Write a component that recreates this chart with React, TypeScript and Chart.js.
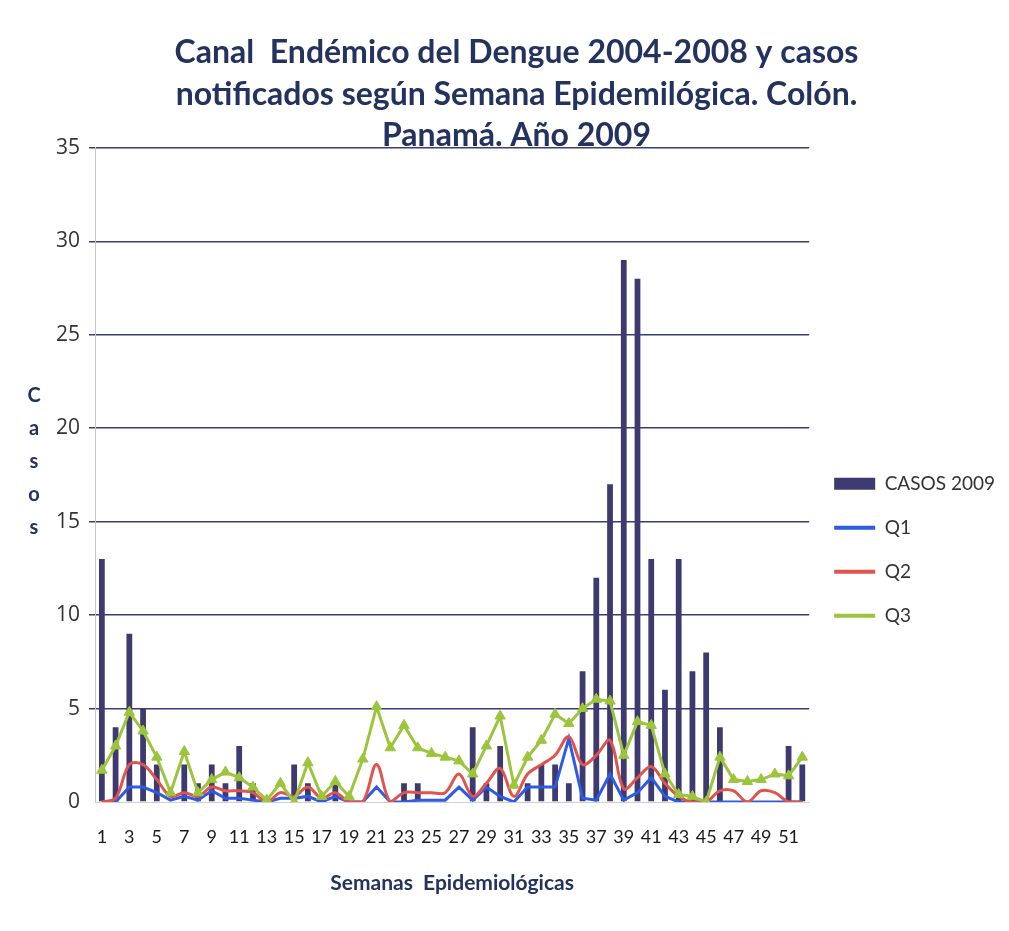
import React, { useEffect, useRef } from 'react';
import { Chart, registerables } from 'chart.js';

Chart.register(...registerables);

const weeks = ['1','2','3','4','5','6','7','8','9','10','11','12','13','14','15','16','17','18','19','20','21','22','23','24','25','26','27','28','29','30','31','32','33','34','35','36','37','38','39','40','41','42','43','44','45','46','47','48','49','50','51','52'];

const casos2009 = [13,4,9,5,2,0,2,1,2,1,3,1,0,0,2,1,0,1,0,0,0,0,1,1,0,0,0,4,1,3,0,1,2,2,1,7,12,17,29,28,13,6,13,7,8,4,0,0,0,0,3,2];

const q1 = [0,0,0.8,0.8,0.5,0.1,0.3,0.1,0.6,0.2,0.2,0.1,0,0.2,0.2,0.3,0,0.3,0,0,0.8,0,0,0.1,0.1,0.1,0.8,0.1,0.8,0.3,0,0.8,0.8,0.8,3.4,0.2,0.1,1.5,0.1,0.5,1.3,0.3,0,0,0,0,0,0,0,0,0,0];

const q2 = [0,0.2,2,2,1.2,0.3,0.5,0.3,0.8,0.6,0.6,0.5,0,0.5,0.3,0.8,0.2,0.5,0,0,2,0,0.5,0.5,0.5,0.5,1.5,0.3,1,1.8,0.3,1.5,2,2.5,3.5,2,2.5,3.3,0.7,1.3,1.9,1,0.3,0,0,0.6,0.6,0,0.6,0.5,0,0];

const q3 = [1.7,3,4.8,3.8,2.4,0.5,2.7,0.5,1.2,1.6,1.3,0.8,0.1,1,0,2.1,0.3,1.1,0.3,2.3,5.1,2.9,4.1,2.9,2.6,2.4,2.2,1.5,3,4.6,0.9,2.4,3.3,4.7,4.2,5,5.5,5.4,2.5,4.3,4.1,1.5,0.4,0.3,0,2.4,1.2,1.1,1.2,1.5,1.4,2.4];

const seriesNames = ['CASOS 2009', 'Q1', 'Q2', 'Q3'];
const titleLines = [
  'Canal  Endémico del Dengue 2004-2008 y casos',
  'notificados según Semana Epidemilógica. Colón.',
  'Panamá. Año 2009',
];
const yTitleLetters = ['C', 'a', 's', 'o', 's'];
const xTitle = 'Semanas  Epidemiológicas';

const NAVY = '#3e396e';
const TITLE_COLOR = '#23325e';
const GRID = '#3b3b78';

const casosLetters = {
  id: 'casosLetters',
  afterDraw(chart: any) {
    const { ctx, chartArea } = chart;
    const mid = (chartArea.top + chartArea.bottom) / 2 - 13;
    ctx.save();
    ctx.font = 'bold 20px Lato';
    ctx.fillStyle = TITLE_COLOR;
    ctx.textAlign = 'center';
    ctx.textBaseline = 'middle';
    yTitleLetters.forEach((l, i) => ctx.fillText(l, 6, mid + (i - 2) * 33));
    ctx.restore();
  },
};

export default function App() {
  const ref = useRef<HTMLCanvasElement | null>(null);
  useEffect(() => {
    if (!ref.current) return;
    const chart = new Chart(ref.current, {
      type: 'bar',
      data: {
        labels: weeks,
        datasets: [
          {
            type: 'bar',
            label: seriesNames[0],
            data: casos2009,
            backgroundColor: NAVY,
            borderWidth: 0,
            barPercentage: 0.42,
            categoryPercentage: 1,
            order: 10,
          },
          {
            type: 'line',
            label: seriesNames[1],
            data: q1,
            borderColor: '#2d5be3',
            backgroundColor: '#2d5be3',
            borderWidth: 3,
            pointRadius: 0,
            tension: 0,
            order: 3,
          },
          {
            type: 'line',
            label: seriesNames[2],
            data: q2,
            borderColor: '#e0544c',
            backgroundColor: '#e0544c',
            borderWidth: 3,
            pointRadius: 0,
            tension: 0.35,
            order: 2,
          },
          {
            type: 'line',
            label: seriesNames[3],
            data: q3,
            borderColor: '#9cc43c',
            backgroundColor: '#9cc43c',
            borderWidth: 3,
            pointStyle: 'triangle',
            pointRadius: 6,
            pointBorderWidth: 1,
            tension: 0,
            order: 1,
          },
        ],
      },
      options: {
        animation: false,
        responsive: true,
        maintainAspectRatio: false,
        layout: { padding: { left: 0, right: -4, top: 0, bottom: 0 } },
        plugins: {
          title: {
            display: true,
            text: titleLines,
            color: TITLE_COLOR,
            font: { family: 'Lato', size: 32, weight: 'bold', lineHeight: 1.3 },
            padding: { top: 24, bottom: -9 },
          },
          legend: {
            display: true,
            position: 'right',
            title: { display: true, text: ' ', font: { size: 12 }, padding: { top: 154, bottom: 0 } },
            labels: {
              usePointStyle: true,
              pointStyleWidth: 41,
              boxHeight: 12,
              padding: 25,
              color: '#333',
              font: { family: 'Lato', size: 19 },
              generateLabels: (c: any) =>
                c.data.datasets.map((ds: any, i: number) => ({
                  text: ds.label,
                  fillStyle: ds.backgroundColor,
                  strokeStyle: ds.borderColor || ds.backgroundColor,
                  lineWidth: i === 0 ? 0 : 4,
                  pointStyle: i === 0 ? 'rect' : 'line',
                  hidden: false,
                  datasetIndex: i,
                  fontColor: '#333',
                })),
            },
          },
          tooltip: { enabled: false },
        },
        scales: {
          x: {
            offset: true,
            grid: { display: false, drawTicks: false },
            border: { display: true, color: '#d0d0d0' },
            ticks: {
              autoSkip: false,
              maxRotation: 0,
              minRotation: 0,
              padding: 24,
              color: '#1a1a1a',
              font: { family: 'Lato', size: 18 },
              callback: (_v: any, idx: number) => (idx % 2 === 0 ? weeks[idx] : ''),
            },
            title: {
              display: true,
              text: xTitle,
              color: TITLE_COLOR,
              font: { family: 'Lato', size: 21, weight: 'bold' },
              padding: { top: 0, bottom: 27 },
            },
            afterFit: (axis: any) => { axis.height = 121; },
          },
          y: {
            min: 0,
            max: 35,
            ticks: {
              stepSize: 5,
              padding: 9,
              color: '#333',
              font: { family: 'Open Sans', size: 21 },
            },
            grid: {
              color: (ctx: any) => (ctx.tick && ctx.tick.value === 0 ? 'rgba(0,0,0,0)' : GRID),
              tickColor: (ctx: any) => (ctx.tick && ctx.tick.value === 0 ? 'rgba(0,0,0,0)' : GRID),
              lineWidth: 1.5,
              tickLength: 6,
            },
            border: { display: true, color: '#c8c8c8', width: 1 },
            afterFit: (axis: any) => { axis.width = 67; },
          },
        },
      },
      plugins: [casosLetters],
    });
    return () => chart.destroy();
  }, []);

  return (
    <div style={{ position: 'relative', width: 973, height: 915, marginLeft: 20 }}>
      <canvas ref={ref} />
    </div>
  );
}
